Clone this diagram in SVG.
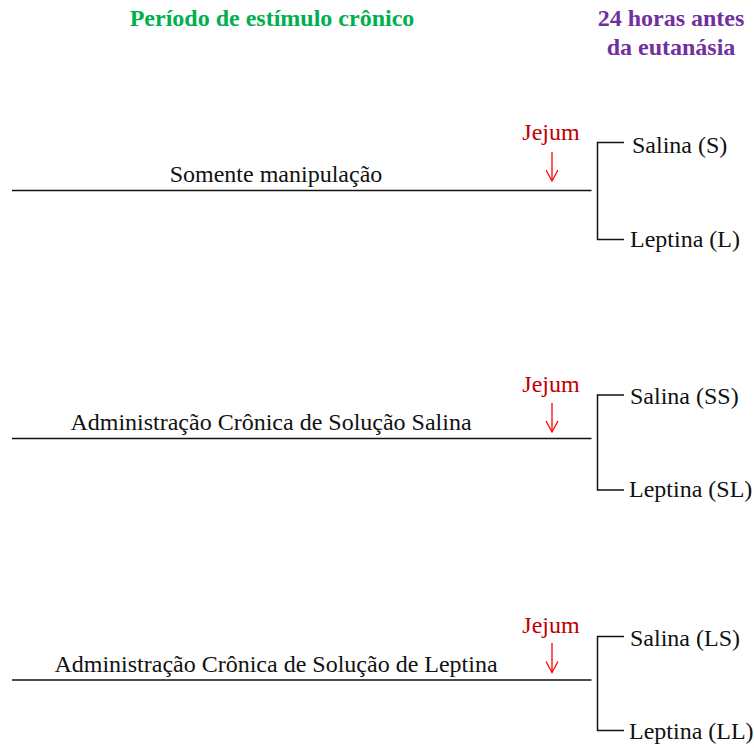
<svg xmlns="http://www.w3.org/2000/svg" width="754" height="748" viewBox="0 0 754 748">
<style>
text{font-family:'Liberation Serif','DejaVu Serif',serif}
.t{font-size:24px;fill:#111}
.j{font-size:24px;fill:#c00000;text-anchor:middle}
.h{font-size:24px;font-weight:bold}
.ln{stroke:#111;stroke-width:1.5;fill:none}
.ar{stroke:#ff0000;stroke-width:1.3;fill:none}
</style>
<rect width="754" height="748" fill="#fff"/>
<g id="headers">
<text class="h" x="272" y="26" fill="#00b050" text-anchor="middle">Período de estímulo crônico</text>
<text class="h" x="671" y="26" fill="#7030a0" text-anchor="middle">24 horas antes</text>
<text class="h" x="671" y="55" fill="#7030a0" text-anchor="middle">da eutanásia</text>
</g>
<g id="connectors">
<line class="ln" x1="12" y1="190.5" x2="591.5" y2="190.5"/>
<polyline class="ln" points="624,142.5 597.5,142.5 597.5,239.5 624,239.5"/>
<line class="ar" x1="552" y1="152" x2="552" y2="181"/>
<polyline class="ar" points="546,170 552,181 558,170"/>
<line class="ln" x1="12" y1="438.5" x2="591.5" y2="438.5"/>
<polyline class="ln" points="624,395 597.5,395 597.5,490 624,490"/>
<line class="ar" x1="552" y1="403" x2="552" y2="432"/>
<polyline class="ar" points="546,421 552,432 558,421"/>
<line class="ln" x1="12" y1="680" x2="591.5" y2="680"/>
<polyline class="ln" points="624,636.5 597.5,636.5 597.5,730.5 624,730.5"/>
<line class="ar" x1="552" y1="643" x2="552" y2="672.5"/>
<polyline class="ar" points="546,661.5 552,672.5 558,661.5"/>
</g>
<g id="group1">
<text class="t" x="276" y="182" text-anchor="middle">Somente manipulação</text>
<text class="j" x="551" y="140">Jejum</text>
<text class="t" x="632" y="152.5">Salina (S)</text>
<text class="t" x="630" y="247">Leptina (L)</text>
</g>
<g id="group2">
<text class="t" x="271" y="430" text-anchor="middle">Administração Crônica de Solução Salina</text>
<text class="j" x="551" y="392">Jejum</text>
<text class="t" x="630" y="404">Salina (SS)</text>
<text class="t" x="629" y="497">Leptina (SL)</text>
</g>
<g id="group3">
<text class="t" x="276" y="672" text-anchor="middle">Administração Crônica de Solução de Leptina</text>
<text class="j" x="551" y="633">Jejum</text>
<text class="t" x="630" y="646">Salina (LS)</text>
<text class="t" x="629" y="739">Leptina (LL)</text>
</g>
</svg>
